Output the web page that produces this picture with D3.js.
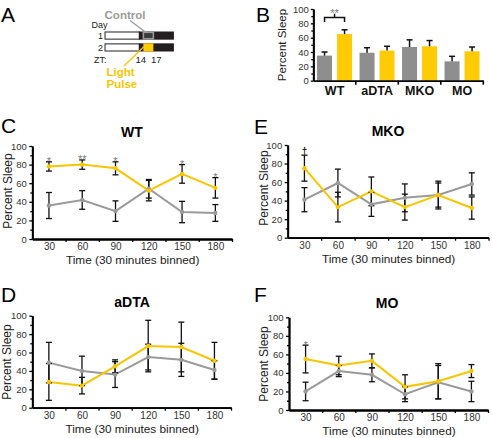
<!DOCTYPE html>
<html><head><meta charset="utf-8">
<script src="https://cdn.jsdelivr.net/npm/d3@7"></script>
<style>
body{margin:0;background:#fff}
svg{display:block}
text{font-family:"Liberation Sans",Arial,Helvetica,sans-serif}
</style>
</head><body>
<svg id="chart" width="492" height="438"></svg>
<script>
// ---------------- DATA ----------------
const timeBins = [30, 60, 90, 120, 150, 180];
const yTickValues = [0, 20, 40, 60, 80, 100];
const yMinorValues = [10, 30, 50, 70, 90];
const boundaryTicks = [45, 75, 105, 135, 165, 195];

// Panel C (WT)
const wtControl = [36, 42, 30, 54, 29, 28];
const wtControlErr = [14, 10, 11, 10, 11.5, 9];
const wtPulse = [78, 80, 76, 52, 70, 55];
const wtPulseErr = [5, 5, 7, 11, 10, 11];
const wtMarks = ["*", "**", "*", "", "*", "*"];

// Panel D (aDTA)
const adtaControl = [49, 40, 36, 55, 52, 41];
const adtaControlErr = [22, 16, 14, 14, 18, 10];
const adtaPulse = [28, 24, 45, 67, 66, 51];
const adtaPulseErr = [20, 9, 7, 28, 27, 20];
const adtaMarks = ["", "", "", "", "", ""];

// Panel E (MKO)
const mkoControl = [41, 59, 36, 43, 46, 58];
const mkoControlErr = [13, 15, 13, 15, 15, 12];
const mkoPulse = [75, 33, 50, 33, 46, 32];
const mkoPulseErr = [14, 16, 15.5, 14, 13, 12];
const mkoMarks = ["\u2020", "", "", "", "", ""];

// Panel F (MO)
const moControl = [20, 42, 38, 17, 30, 20];
const moControlErr = [10, 6, 7.5, 8, 18, 11];
const moPulse = [55, 48, 53, 25, 31, 42];
const moPulseErr = [15, 10, 7.5, 13, 19, 7];
const moMarks = ["*", "", "", "", "", ""];

// Panel B (bar chart)
const groups = ["WT", "aDTA", "MKO", "MO"];
const barControl = [35, 39, 47, 27];
const barControlErr = [5, 7, 10, 7];
const barPulse = [65, 42, 48, 41];
const barPulseErr = [6, 6, 8, 6];

// Panel A (schematic, ZT hours)
const dayRows = ["1", "2"];
const barZT = [2.5, 12.8, 23];   // start, lights-off, end
const pulseZT = [14, 17];

// ---------------- STYLE ----------------
const GRAY = "#9a9a9a", GRAY_BAR = "#8e8e8e", YEL = "#f7c600", YEL_BAR = "#ffcb05";
const svg = d3.select("#chart");

function styleAxis(g) {
  g.selectAll(".domain").attr("stroke", "#000").attr("stroke-width", 1.8);
  g.selectAll(".tick line").attr("stroke", "#000").attr("stroke-width", 1.3);
  g.selectAll(".tick text").attr("fill", "#333").style("font-family", '"Liberation Sans",Arial,sans-serif');
}

// ---------------- LINE PANELS ----------------
function linePanel(o) {
  const g = svg.append("g");
  const x = d3.scaleLinear().domain([15, 195]).range([o.x0, o.x1]);
  const y = d3.scaleLinear().domain([0, 100]).range([o.yb, o.yt]);

  // y axis
  g.append("g").attr("transform", `translate(${o.x0},0)`)
    .call(d3.axisLeft(y).tickValues(yTickValues).tickSize(3).tickPadding(2.5).tickSizeOuter(0))
    .call(a => a.selectAll("text").attr("font-size", 9.5))
    .call(styleAxis);
  g.append("g").attr("transform", `translate(${o.x0},0)`)
    .call(d3.axisLeft(y).tickValues(yMinorValues).tickSize(2).tickFormat("").tickSizeOuter(0))
    .call(styleAxis);
  // x axis
  g.append("g").attr("transform", `translate(0,${o.yb})`)
    .call(d3.axisBottom(x).tickValues(timeBins).tickSize(0).tickPadding(4).tickSizeOuter(0))
    .call(a => a.selectAll("text").attr("font-size", 10))
    .call(styleAxis);
  g.append("g").attr("transform", `translate(0,${o.yb})`)
    .call(d3.axisBottom(x).tickValues(boundaryTicks).tickSize(3).tickFormat("").tickSizeOuter(0))
    .call(styleAxis);

  const series = [
    {v: o.control, e: o.controlErr, c: GRAY},
    {v: o.pulse, e: o.pulseErr, c: YEL}
  ];
  const line = d3.line().x((d, i) => x(timeBins[i])).y(d => y(d));
  series.forEach(s => {
    g.append("path").datum(s.v).attr("d", line)
      .attr("fill", "none").attr("stroke", s.c).attr("stroke-width", 2);
  });
  series.forEach(s => {
    s.v.forEach((v, i) => {
      const cx = x(timeBins[i]);
      const lo = y(v - s.e[i]), hi = y(v + s.e[i]);
      g.append("line").attr("x1", cx).attr("x2", cx).attr("y1", lo).attr("y2", hi)
        .attr("stroke", "#111").attr("stroke-width", 1.3);
      [lo, hi].forEach(yy => g.append("line").attr("x1", cx - 3).attr("x2", cx + 3)
        .attr("y1", yy).attr("y2", yy).attr("stroke", "#111").attr("stroke-width", 1.3));
    });
  });
  series.forEach(s => {
    g.selectAll(null).data(s.v).enter().append("circle")
      .attr("cx", (d, i) => x(timeBins[i])).attr("cy", d => y(d)).attr("r", 2.2).attr("fill", s.c);
  });
  // significance marks
  o.marks.forEach((m, i) => {
    if (!m) return;
    const top = Math.max(o.pulse[i] + o.pulseErr[i], o.control[i] + o.controlErr[i]);
    const isDagger = m === "\u2020";
    g.append("text").attr("x", x(timeBins[i])).attr("y", y(top) + (isDagger ? -0.5 : 3.5))
      .attr("text-anchor", "middle").attr("font-size", isDagger ? 10 : 11)
      .attr("font-weight", isDagger ? "bold" : "normal")
      .attr("fill", isDagger ? "#222" : "#7a7a7a").text(m);
  });

  // titles
  g.append("text").attr("x", o.tx).attr("y", o.ty).attr("text-anchor", "middle")
    .attr("font-size", 14).attr("font-weight", "bold").text(o.title);
  g.append("text").attr("x", o.lx).attr("y", o.ly).attr("font-size", 21).text(o.letter);
  g.append("text").attr("transform", `translate(${o.ytx},${o.yty}) rotate(-90)`)
    .attr("text-anchor", "middle").attr("font-size", 12).attr("fill", "#222")
    .text("Percent Sleep");
  g.append("text").attr("x", (o.x0 + o.x1) / 2 + 0.5).attr("y", o.xty).attr("text-anchor", "middle")
    .attr("font-size", 11.8).attr("fill", "#222").text("Time (30 minutes binned)");
}

linePanel({x0: 32.3, x1: 232, yb: 239, yt: 146, title: "WT", tx: 132, ty: 137, letter: "C", lx: 1, ly: 133,
  ytx: 11.5, yty: 191, xty: 264, control: wtControl, controlErr: wtControlErr, pulse: wtPulse, pulseErr: wtPulseErr, marks: wtMarks});
linePanel({x0: 287.7, x1: 488.5, yb: 237.7, yt: 145, title: "MKO", tx: 388, ty: 136, letter: "E", lx: 254, ly: 134,
  ytx: 268, yty: 188, xty: 263, control: mkoControl, controlErr: mkoControlErr, pulse: mkoPulse, pulseErr: mkoPulseErr, marks: mkoMarks});
linePanel({x0: 32.3, x1: 231, yb: 407.7, yt: 315.7, title: "aDTA", tx: 132, ty: 307, letter: "D", lx: 1, ly: 302,
  ytx: 11.3, yty: 362, xty: 433, control: adtaControl, controlErr: adtaControlErr, pulse: adtaPulse, pulseErr: adtaPulseErr, marks: adtaMarks});
linePanel({x0: 289, x1: 488, yb: 410, yt: 317.3, title: "MO", tx: 387, ty: 308, letter: "F", lx: 254, ly: 302,
  ytx: 268, yty: 364, xty: 435, control: moControl, controlErr: moControlErr, pulse: moPulse, pulseErr: moPulseErr, marks: moMarks});

// ---------------- PANEL B ----------------
(function () {
  const g = svg.append("g");
  const x0 = 313.3, x1 = 483.3, yb = 80.7, yt = 9;
  const xg = d3.scaleBand().domain(groups).range([x0, x1]).padding(0);
  const xs = d3.scaleBand().domain(["c", "p"]).range([0, xg.bandwidth()]).paddingInner(0.25).paddingOuter(0.1875);
  const y = d3.scaleLinear().domain([0, 100]).range([yb, yt]);

  const bars = [
    {k: "c", v: barControl, e: barControlErr, c: GRAY_BAR},
    {k: "p", v: barPulse, e: barPulseErr, c: YEL_BAR}
  ];
  bars.forEach(b => {
    groups.forEach((gr, i) => {
      const bx = xg(gr) + xs(b.k), bw = xs.bandwidth(), cx = bx + bw / 2;
      g.append("rect").attr("x", bx).attr("y", y(b.v[i])).attr("width", bw).attr("height", yb - y(b.v[i]))
        .attr("fill", b.c);
      const hi = y(b.v[i] + b.e[i]);
      g.append("line").attr("x1", cx).attr("x2", cx).attr("y1", y(b.v[i])).attr("y2", hi)
        .attr("stroke", "#111").attr("stroke-width", 1.5);
      g.append("line").attr("x1", cx - 3).attr("x2", cx + 3).attr("y1", hi).attr("y2", hi)
        .attr("stroke", "#111").attr("stroke-width", 1.5);
    });
  });

  g.append("g").attr("transform", `translate(${x0},0)`)
    .call(d3.axisLeft(y).tickValues(yTickValues).tickSize(2.5).tickPadding(2).tickSizeOuter(0))
    .call(a => a.selectAll("text").attr("font-size", 9.5))
    .call(styleAxis);
  g.append("g").attr("transform", `translate(${x0},0)`)
    .call(d3.axisLeft(y).tickValues(yMinorValues).tickSize(2).tickFormat("").tickSizeOuter(0))
    .call(styleAxis);
  const xa = g.append("g").attr("transform", `translate(0,${yb})`)
    .call(d3.axisBottom(xg).tickSize(0).tickPadding(5).tickSizeOuter(0))
    .call(styleAxis);
  xa.selectAll("text").attr("font-size", 12.5).attr("font-weight", "bold").attr("fill", "#111");
  g.append("g").selectAll("line").data(groups).enter().append("line")
    .attr("x1", d => xg(d) + xg.bandwidth()).attr("x2", d => xg(d) + xg.bandwidth())
    .attr("y1", yb).attr("y2", yb + 4).attr("stroke", "#000").attr("stroke-width", 1.6);

  // significance bracket WT
  const ca = xg("WT") + xs("c") + xs.bandwidth() / 2, cb = xg("WT") + xs("p") + xs.bandwidth() / 2;
  const bracketVal = 88, legVal = 82, tipVal = 93.5;
  g.append("path").attr("d", `M${ca},${y(legVal)}V${y(bracketVal)}H${cb}V${y(legVal)}M${(ca + cb) / 2},${y(bracketVal)}V${y(tipVal)}`)
    .attr("fill", "none").attr("stroke", "#111").attr("stroke-width", 1.5);
  g.append("text").attr("x", (ca + cb) / 2).attr("y", 16.5).attr("text-anchor", "middle")
    .attr("font-size", 11).attr("fill", "#7a7a7a").text("**");

  g.append("text").attr("x", 256).attr("y", 22).attr("font-size", 21).text("B");
  g.append("text").attr("transform", `translate(286,45) rotate(-90)`).attr("text-anchor", "middle")
    .attr("font-size", 11.5).attr("fill", "#222").text("Percent Sleep");
})();

// ---------------- PANEL A ----------------
(function () {
  const g = svg.append("g");
  g.append("text").attr("x", 1).attr("y", 22).attr("font-size", 21).text("A");
  const zt = d3.scaleLinear().domain([0, 24]).range([96.7, 176.7]);
  const rowY = d3.scaleBand().domain(dayRows).range([32, 51]).paddingInner(0.4);

  g.append("text").attr("x", 91.5).attr("y", 28).attr("font-size", 9).attr("fill", "#222").text("Day");
  dayRows.forEach((d, i) => {
    const ry = rowY(d), rh = rowY.bandwidth();
    g.append("text").attr("x", 103).attr("y", ry + rh).attr("text-anchor", "end")
      .attr("font-size", 9).attr("fill", "#222").text(d);
    g.append("rect").attr("x", zt(barZT[0])).attr("y", ry).attr("width", zt(barZT[1]) - zt(barZT[0]))
      .attr("height", rh).attr("fill", "#fff").attr("stroke", "#222").attr("stroke-width", 1);
    g.append("rect").attr("x", zt(barZT[1])).attr("y", ry).attr("width", zt(barZT[2]) - zt(barZT[1]))
      .attr("height", rh).attr("fill", "#231f20").attr("stroke", "#231f20").attr("stroke-width", 1);
    if (i === 0) {
      g.append("rect").attr("x", zt(pulseZT[0])).attr("y", ry + 0.3).attr("width", zt(pulseZT[1]) - zt(pulseZT[0]))
        .attr("height", rh - 0.6).attr("fill", "#3a3a3a").attr("stroke", GRAY).attr("stroke-width", 1.6);
    } else {
      g.append("rect").attr("x", zt(pulseZT[0])).attr("y", ry - 0.5).attr("width", zt(pulseZT[1]) - zt(pulseZT[0]))
        .attr("height", rh + 1).attr("fill", YEL_BAR);
    }
  });
  g.append("text").attr("x", 94).attr("y", 62.5).attr("font-size", 9).attr("fill", "#222").text("ZT:");
  pulseZT.forEach((h, i) => g.append("text").attr("x", zt(h) + (i === 0 ? -2.5 : 3)).attr("y", 62.5)
    .attr("text-anchor", "middle").attr("font-size", 9.5).attr("fill", "#222").text(h));

  g.append("text").attr("x", 125).attr("y", 19).attr("text-anchor", "middle").attr("font-size", 11.5)
    .attr("font-weight", "bold").attr("fill", GRAY).text("Control");
  g.append("line").attr("x1", 130).attr("y1", 20.5).attr("x2", 146).attr("y2", 32.5)
    .attr("stroke", GRAY).attr("stroke-width", 1.3);
  g.append("line").attr("x1", 124).attr("y1", 66).attr("x2", 144).attr("y2", 46.5)
    .attr("stroke", YEL).attr("stroke-width", 1.3);
  g.append("text").attr("x", 106.5).attr("y", 76).attr("font-size", 11.5).attr("font-weight", "bold")
    .attr("fill", YEL).text("Light");
  g.append("text").attr("x", 106.5).attr("y", 87.5).attr("font-size", 11.5).attr("font-weight", "bold")
    .attr("fill", YEL).text("Pulse");
})();
</script>
</body></html>
